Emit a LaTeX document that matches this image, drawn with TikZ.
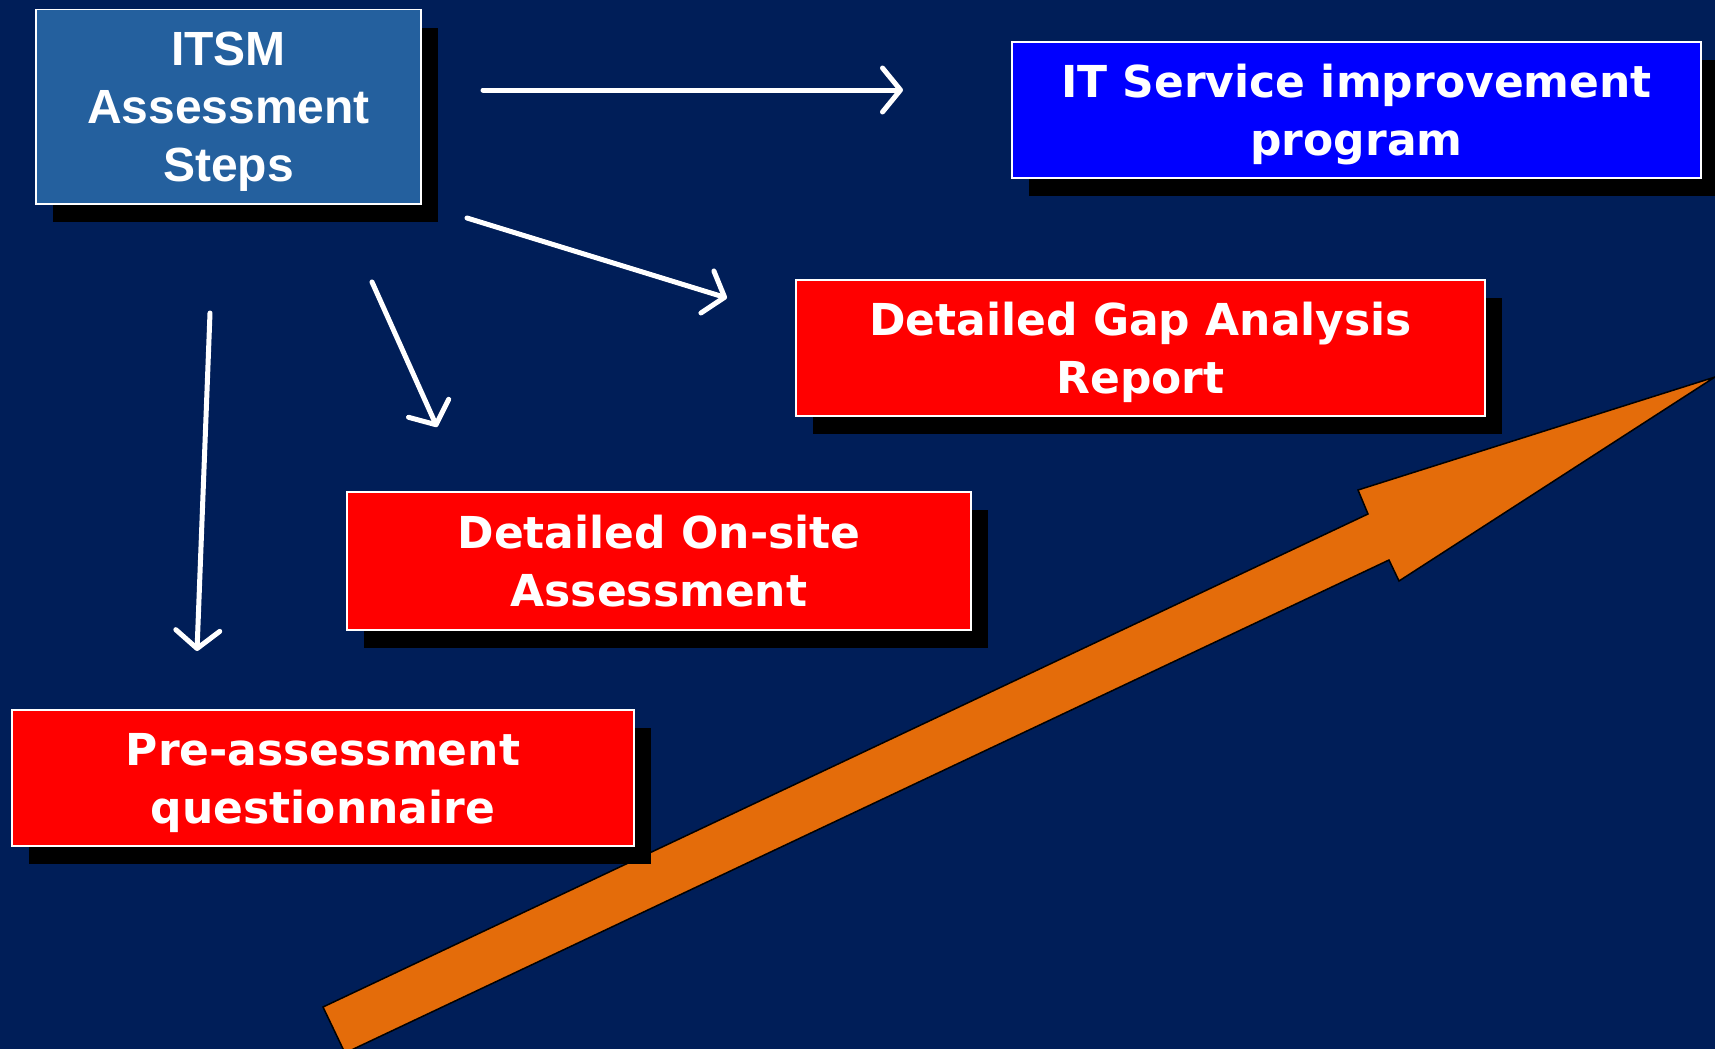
\documentclass[tikz,border=0pt]{standalone}
\usepackage{fontspec}
\setmainfont{DejaVu Sans}
\newfontfamily\arialfont{Liberation Sans}
\usetikzlibrary{arrows.meta,shadows}

\definecolor{fundo}{RGB}{0,30,88}
\definecolor{itsmazul}{RGB}{36,96,158}
\definecolor{azulforte}{RGB}{0,0,255}
\definecolor{vermelho}{RGB}{255,0,0}
\definecolor{laranja}{RGB}{228,108,10}

\begin{document}
\begin{tikzpicture}[
        x=0.5pt, y=-0.5pt,
        caixa/.style={draw=white, line width=0.8pt, text=white, align=center, inner sep=0pt,
            text depth=0pt, font=\fontsize{22}{29}\selectfont\bfseries,
            drop shadow={shadow xshift=8.5pt, shadow yshift=-9pt, fill=black, opacity=1}},
        caixaitsm/.style={caixa, fill=itsmazul, font=\arialfont\fontsize{24}{29}\selectfont\bfseries,
            minimum width=192.5pt, minimum height=97.25pt},
        caixaazul/.style={caixa, fill=azulforte, minimum width=344.5pt, minimum height=68pt},
        caixavermelha/.style={caixa, fill=vermelho, minimum height=68pt},
        seta/.style={draw=white, line width=2.5pt, line cap=round,
            -{Straight Barb[length=9pt, width=22pt, round]}},
        setalaranja/.style={fill=laranja, draw=black, line width=0.75pt, line join=miter}
        ]
        \fill[fundo] (0,0) rectangle (1715,1049);
        \useasboundingbox (0,0) rectangle (1715,1049);

        % seta grande de progresso
        \draw[setalaranja] (323,1007) -- (1368,514) -- (1358,490) -- (1715,377)
            -- (1399,581) -- (1389,560) -- (345,1053) -- cycle;

        \node [caixaitsm] (itsm) at (228.5,106.75) {ITSM\\Assessment\\Steps};
        \node [caixaazul] (programa) at (1356.5,110) {IT Service improvement\\program};
        \node [caixavermelha, minimum width=344.5pt] (gap) at (1140.5,348) {Detailed Gap Analysis\\Report};
        \node [caixavermelha, minimum width=312pt, minimum height=69pt] (onsite) at (659,561) {Detailed On-site\\Assessment};
        \node [caixavermelha, minimum width=311pt] (pre) at (323,778) {Pre-assessment\\questionnaire};

        \coordinate (s1a) at (483,90);   \coordinate (s1b) at (903,90);
        \coordinate (s2a) at (467,218);  \coordinate (s2b) at (727,298);
        \coordinate (s3a) at (372,282);  \coordinate (s3b) at (437,427);
        \coordinate (s4a) at (210,313);  \coordinate (s4b) at (197,651);

        \draw[seta] (s1a) -- (s1b);
        \draw[seta] (s2a) -- (s2b);
        \draw[seta] (s3a) -- (s3b);
        \draw[seta] (s4a) -- (s4b);
    \end{tikzpicture}
\end{document}
